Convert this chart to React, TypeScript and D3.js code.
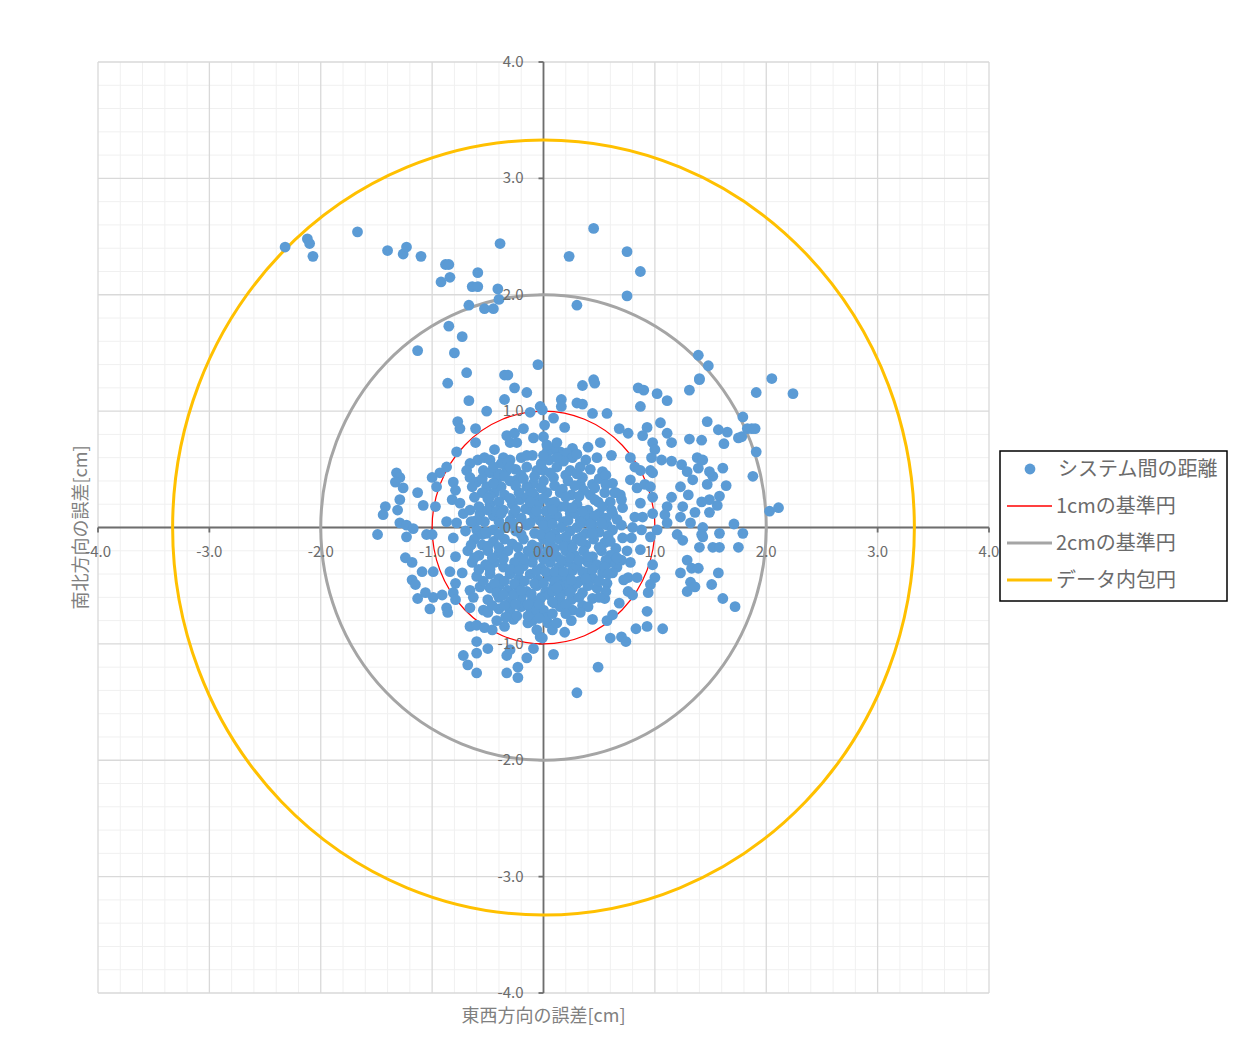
import React from "react";
import * as d3 from "d3";

// tick values for both axes
const xTicks = [-4, -3, -2, -1, 0, 1, 2, 3, 4];
const yTicks = [-4, -3, -2, -1, 0, 1, 2, 3, 4];

// reference circles: radius in cm
const circleRadii = [3.33, 2, 1];
const circleColors = ["#ffc000", "#a5a5a5", "#ff0000"];
const circleWidths = [3, 3, 1.2];

const legendLabels = ["システム間の距離", "1cmの基準円", "2cmの基準円", "データ内包円"];

// scatter points [east-west, north-south]
const farPoints: [number, number][] = [
  [-2.32, 2.41], [-2.12, 2.48], [-2.1, 2.44], [-2.07, 2.33], [-1.67, 2.54], [-1.4, 2.38],
  [-1.26, 2.35], [-1.23, 2.41], [-1.1, 2.33], [-0.88, 2.26], [-0.85, 2.26], [-0.84, 2.15],
  [-0.92, 2.11], [-0.59, 2.19], [-0.64, 2.07], [-0.59, 2.07], [-0.41, 2.05], [-0.4, 1.96],
  [-0.67, 1.91], [-0.53, 1.88], [-0.45, 1.88], [-0.39, 2.44], [-0.85, 1.73], [-0.73, 1.64],
  [-1.13, 1.52], [-0.8, 1.5], [-0.69, 1.33], [-0.86, 1.24], [-0.35, 1.31], [-0.32, 1.31],
  [-0.05, 1.4], [0.23, 2.33], [0.3, 1.91], [0.45, 2.57], [0.45, 1.27], [0.75, 2.37],
  [0.87, 2.2], [0.75, 1.99], [1.39, 1.48], [1.48, 1.39], [1.4, 1.28], [2.05, 1.28],
  [1.91, 1.16], [2.24, 1.15], [1.79, 0.95], [1.57, 0.84], [1.65, 0.82], [1.83, 0.85],
  [1.87, 0.85], [1.9, 0.85], [1.75, 0.77], [1.78, 0.78], [1.62, 0.72], [1.91, 0.65],
  [1.61, 0.51], [1.52, 0.44], [1.49, 0.48], [1.64, 0.36], [1.88, 0.44], [1.58, 0.27],
  [1.56, 0.19], [1.49, 0.24], [2.03, 0.14], [2.11, 0.17], [1.71, 0.03], [1.58, -0.05],
  [1.79, -0.05], [0.3, -1.42], [0.49, -1.2],
];

const upperPoints: [number, number][] = [
  [0.35, 1.22], [0.46, 1.24], [0.85, 1.2], [0.9, 1.18], [1.02, 1.15], [1.11, 1.09],
  [1.31, 1.18], [1.4, 1.27], [0.16, 1.1], [0.16, 1.04], [0.3, 1.07], [0.35, 1.06],
  [0.44, 0.98], [0.57, 0.98], [-0.01, 1.01], [0.09, 0.94], [0.19, 0.86], [0.01, 0.88],
  [0.87, 1.04], [0.68, 0.85], [0.76, 0.81], [0.93, 0.86], [0.89, 0.79], [1.05, 0.9],
  [1.11, 0.81], [1.15, 0.73], [0.98, 0.73], [1.0, 0.67], [0.97, 0.6], [0.96, 0.49],
  [0.98, 0.47], [1.06, 0.58], [1.15, 0.57], [1.24, 0.54], [1.31, 0.76], [1.42, 0.75],
  [1.47, 0.91], [1.38, 0.6], [1.43, 0.58], [1.29, 0.48], [1.39, 0.51], [1.34, 0.41],
  [1.47, 0.37], [1.23, 0.35], [1.3, 0.28], [1.15, 0.26], [1.42, 0.22], [1.25, 0.18],
  [1.36, 0.13], [1.49, 0.13], [1.23, 0.09], [1.32, 0.04], [1.43, 0.0], [1.11, 0.18],
  [1.09, 0.11], [1.11, 0.04], [1.02, -0.02], [1.2, -0.06], [1.42, -0.06],
  [0.51, 0.73], [0.4, 0.69], [0.26, 0.68], [0.15, 0.65], [0.21, 0.64], [0.09, 0.67],
  [0.03, 0.64], [0.12, 0.73], [0.61, 0.62], [0.48, 0.6], [0.26, 0.6], [0.33, 0.52],
  [0.53, 0.48], [0.44, 0.37], [0.78, 0.6], [0.82, 0.52], [0.78, 0.41], [0.87, 0.49],
  [0.84, 0.34], [0.91, 0.37], [0.96, 0.35], [0.69, 0.28], [0.64, 0.3], [0.61, 0.15],
  [0.49, 0.22], [0.42, 0.28], [0.33, 0.37], [0.35, 0.43], [0.71, 0.17], [0.87, 0.21],
  [0.98, 0.26], [0.82, 0.09], [0.89, 0.09], [0.98, 0.12], [0.8, 0.0], [0.88, -0.02],
  [0.7, 0.02], [0.57, 0.02], [0.44, 0.02], [0.33, 0.06], [0.24, 0.12], [0.15, 0.18],
  [0.06, 0.21], [0.03, 0.3], [0.15, 0.3], [0.09, 0.43], [0.0, 0.49], [0.24, 0.49],
  [0.0, 0.78], [0.03, 0.71],
  [-0.26, 1.2], [-0.15, 1.16], [-0.35, 1.1], [-0.67, 1.09], [-0.51, 1.0], [-0.03, 1.04],
  [-0.12, 0.99], [-0.77, 0.91], [-0.75, 0.85], [-0.61, 0.85], [-0.61, 0.73], [-0.78, 0.65],
  [-0.44, 0.67], [-0.33, 0.79], [-0.26, 0.81], [-0.3, 0.73], [-0.24, 0.73], [-0.18, 0.85],
  [-0.09, 0.77], [-0.36, 0.6], [-0.3, 0.58], [-0.59, 0.58], [-0.53, 0.6], [-0.48, 0.58],
  [-0.66, 0.55], [-0.69, 0.49], [-0.87, 0.52], [-0.93, 0.47], [-1.0, 0.43], [-1.32, 0.47],
  [-1.29, 0.43], [-1.33, 0.39], [-1.26, 0.34], [-1.13, 0.3], [-0.96, 0.35], [-0.81, 0.39],
  [-0.79, 0.32], [-0.66, 0.43], [-0.6, 0.39], [-0.64, 0.35], [-0.54, 0.49], [-0.48, 0.47],
  [-0.51, 0.35], [-0.42, 0.41], [-0.44, 0.3], [-0.33, 0.49], [-0.24, 0.41], [-0.15, 0.52],
  [-0.06, 0.49], [-0.09, 0.38], [-1.42, 0.18], [-1.29, 0.24], [-1.44, 0.11], [-1.31, 0.15],
  [-1.08, 0.19], [-0.97, 0.18], [-0.82, 0.24], [-0.75, 0.21], [-0.72, 0.12], [-0.66, 0.15],
  [-0.57, 0.12], [-0.53, 0.05], [-0.63, 0.05], [-0.78, 0.04], [-0.87, 0.05], [-1.29, 0.04],
  [-1.23, 0.02], [-1.17, -0.01], [-1.49, -0.06], [-1.05, -0.06], [-0.6, -0.02], [-0.51, -0.05],
  [-0.36, 0.15], [-0.27, 0.12], [-0.21, 0.24], [-0.12, 0.15], [-0.03, 0.06],
];

const lowerPoints: [number, number][] = [
  [-1.23, -0.08], [-1.0, -0.06], [-0.81, -0.09], [-1.24, -0.26], [-1.18, -0.3], [-1.09, -0.38],
  [-0.99, -0.38], [-0.79, -0.25], [-0.84, -0.38], [-0.73, -0.39], [-1.18, -0.45], [-1.15, -0.49],
  [-1.13, -0.61], [-1.06, -0.56], [-0.99, -0.6], [-0.91, -0.58], [-1.02, -0.7], [-0.87, -0.69],
  [-0.86, -0.73], [-0.79, -0.48], [-0.81, -0.56], [-0.79, -0.62], [-0.66, -0.69], [-0.66, -0.54],
  [-0.63, -0.6], [-0.57, -0.51], [-0.54, -0.71], [-0.5, -0.73], [-0.66, -0.85], [-0.6, -0.84],
  [-0.53, -0.86], [-0.46, -0.88], [-0.35, -0.85], [-0.27, -0.79], [-0.6, -0.98], [-0.5, -1.04],
  [-0.72, -1.1], [-0.6, -1.08], [-0.68, -1.18], [-0.6, -1.25], [-0.33, -1.1], [-0.3, -1.05],
  [-0.33, -1.25], [-0.23, -1.29], [-0.23, -1.2], [-0.15, -1.12], [-0.14, -0.82], [-0.06, -0.88],
  [-0.03, -0.94], [-0.09, -1.04], [-0.12, -0.69], [0.0, -0.71],
  [0.71, -0.09], [0.79, -0.09], [0.96, -0.08], [1.25, -0.11], [1.4, -0.17], [1.43, -0.08],
  [1.52, -0.17], [1.58, -0.17], [1.75, -0.17], [0.87, -0.19], [1.29, -0.28], [1.33, -0.35],
  [1.39, -0.35], [1.23, -0.39], [1.57, -0.39], [1.29, -0.55], [1.32, -0.47], [1.36, -0.51],
  [1.51, -0.49], [1.61, -0.61], [1.72, -0.68], [0.98, -0.32], [1.0, -0.43], [0.96, -0.49],
  [0.94, -0.56], [0.93, -0.72], [0.93, -0.85], [1.07, -0.87], [0.83, -0.87], [0.6, -0.95],
  [0.7, -0.94], [0.74, -0.98], [0.57, -0.8], [0.62, -0.75], [0.68, -0.65], [0.76, -0.55],
  [0.8, -0.58], [0.76, -0.43], [0.84, -0.43], [0.78, -0.3], [0.66, -0.34], [0.6, -0.3],
  [0.09, -1.09], [-0.01, -0.95], [0.53, -0.39], [0.48, -0.52], [0.57, -0.48], [0.44, -0.61],
  [0.55, -0.61], [0.35, -0.67], [0.4, -0.68], [0.26, -0.71], [0.33, -0.73], [0.44, -0.79],
  [0.1, -0.65], [0.04, -0.82], [0.08, -0.88], [0.19, -0.9], [0.18, -0.55], [0.09, -0.51],
  [0.26, -0.52], [0.35, -0.56], [0.26, -0.37], [0.39, -0.39], [0.15, -0.43], [0.62, -0.39],
];

const corePoints: [number, number][] = [
  [-0.2, 0.6], [-0.1, 0.62], [0.05, 0.58], [0.3, 0.63], [-0.38, 0.55],
  [-0.25, 0.5], [-0.02, 0.55], [0.12, 0.52], [0.2, 0.45], [0.42, 0.5], [-0.4, 0.46],
  [-0.3, 0.4], [-0.15, 0.35], [0.0, 0.4], [0.1, 0.36], [0.22, 0.4], [0.5, 0.42], [0.62, 0.38], [-0.55, 0.3],
  [-0.35, 0.28], [-0.22, 0.3], [-0.08, 0.27], [0.25, 0.28], [0.36, 0.32], [0.55, 0.3], [-0.62, 0.26],
  [-0.48, 0.2], [-0.4, 0.22], [-0.28, 0.2], [-0.05, 0.2], [0.02, 0.14], [0.1, 0.22], [0.2, 0.18],
  [0.3, 0.2], [0.4, 0.15], [0.5, 0.12], [0.7, 0.24], [-0.58, 0.18],
  [-0.45, 0.1], [-0.4, 0.05], [-0.2, 0.08], [-0.08, 0.1], [0.05, 0.07], [0.12, 0.1], [0.18, 0.05],
  [0.28, 0.12], [0.38, 0.08], [0.46, 0.1], [0.56, 0.08], [0.62, 0.12],
  [-0.7, -0.03], [-0.45, -0.02], [-0.35, 0.0], [-0.25, -0.03], [-0.15, 0.02], [-0.08, -0.05],
  [0.02, -0.02], [0.1, -0.05], [0.16, 0.0], [0.24, -0.03], [0.3, 0.0], [0.38, -0.05], [0.5, -0.04], [0.62, -0.02],
  [-0.62, -0.1], [-0.55, -0.15], [-0.45, -0.12], [-0.35, -0.1], [-0.28, -0.14], [-0.18, -0.1],
  [-0.1, -0.15], [0.0, -0.1], [0.06, -0.14], [0.14, -0.1], [0.22, -0.14], [0.3, -0.1], [0.38, -0.15],
  [0.45, -0.1], [0.55, -0.13], [0.65, -0.18],
  [-0.68, -0.2], [-0.58, -0.24], [-0.5, -0.2], [-0.4, -0.22], [-0.32, -0.2], [-0.22, -0.25],
  [-0.14, -0.2], [-0.05, -0.22], [0.04, -0.2], [0.12, -0.25], [0.2, -0.2], [0.28, -0.24],
  [0.36, -0.2], [0.44, -0.25], [0.52, -0.2], [0.6, -0.24], [0.75, -0.2],
  [-0.64, -0.3], [-0.52, -0.32], [-0.44, -0.3], [-0.36, -0.34], [-0.26, -0.3], [-0.18, -0.33],
  [-0.1, -0.3], [-0.02, -0.35], [0.06, -0.3], [0.14, -0.34], [0.22, -0.3], [0.3, -0.33],
  [0.4, -0.3], [0.48, -0.32], [0.7, -0.28],
  [-0.6, -0.42], [-0.48, -0.4], [-0.4, -0.44], [-0.3, -0.4], [-0.22, -0.44], [-0.12, -0.4],
  [-0.05, -0.45], [0.05, -0.42], [0.1, -0.46], [0.2, -0.42], [0.32, -0.46], [0.45, -0.44], [0.72, -0.45],
  [-0.48, -0.52], [-0.4, -0.5], [-0.32, -0.54], [-0.24, -0.5], [-0.15, -0.55], [-0.06, -0.5],
  [0.02, -0.55], [0.2, -0.5], [0.3, -0.48], [0.4, -0.5], [0.56, -0.55],
  [-0.5, -0.62], [-0.4, -0.6], [-0.3, -0.64], [-0.2, -0.6], [-0.1, -0.62], [-0.02, -0.6],
  [0.05, -0.58], [0.15, -0.6], [0.25, -0.62],
  [-0.4, -0.7], [-0.3, -0.72], [-0.2, -0.68], [-0.08, -0.72], [0.15, -0.68],
  [-0.42, -0.8], [-0.1, -0.8], [0.02, -0.78], [0.12, -0.82], [0.25, -0.8],
];

const denseFill: [number, number][] = [
  [-0.32, 0.56], [0.18, 0.57], [0.38, 0.58],
  [-0.2, 0.45], [-0.08, 0.44], [0.06, 0.47], [0.3, 0.46], [0.56, 0.45],
  [-0.38, 0.35], [-0.25, 0.36], [-0.02, 0.34], [0.17, 0.33], [0.28, 0.36], [0.46, 0.34], [0.56, 0.37],
  [-0.48, 0.27], [-0.3, 0.25], [-0.15, 0.26], [0.0, 0.25], [0.2, 0.26], [0.32, 0.27], [0.46, 0.24], [0.6, 0.22],
  [-0.5, 0.15], [-0.42, 0.14], [-0.16, 0.16], [-0.06, 0.14], [0.08, 0.15], [0.26, 0.17], [0.35, 0.14], [0.53, 0.18], [0.66, 0.07],
  [-0.6, 0.06], [-0.3, 0.06], [-0.12, 0.04], [0.0, 0.02], [0.08, 0.03], [0.22, 0.06], [0.34, 0.04], [0.42, 0.03], [0.52, 0.04],
  [-0.55, -0.06], [-0.4, -0.06], [-0.2, -0.06], [-0.03, -0.06], [0.06, -0.08], [0.2, -0.08], [0.34, -0.08], [0.44, -0.05], [0.58, -0.07],
  [-0.65, -0.15], [-0.5, -0.16], [-0.4, -0.17], [-0.23, -0.17], [-0.05, -0.17], [0.1, -0.18], [0.18, -0.16], [0.26, -0.17], [0.34, -0.12], [0.5, -0.17], [0.6, -0.12],
  [-0.62, -0.26], [-0.46, -0.26], [-0.36, -0.27], [-0.18, -0.27], [-0.09, -0.25], [0.0, -0.27], [0.08, -0.24], [0.16, -0.28], [0.24, -0.26], [0.32, -0.28], [0.4, -0.25], [0.56, -0.28], [0.66, -0.26],
  [-0.58, -0.36], [-0.48, -0.36], [-0.3, -0.36], [-0.22, -0.37], [-0.06, -0.37], [0.02, -0.38], [0.1, -0.38], [0.18, -0.38], [0.35, -0.38], [0.44, -0.36], [0.55, -0.34],
  [-0.54, -0.46], [-0.44, -0.48], [-0.35, -0.46], [-0.26, -0.48], [-0.17, -0.46], [-0.08, -0.48], [0.0, -0.48], [0.14, -0.5], [0.25, -0.45], [0.38, -0.44], [0.5, -0.46],
  [-0.42, -0.56], [-0.36, -0.58], [-0.27, -0.58], [-0.2, -0.54], [-0.11, -0.57], [0.08, -0.55], [0.12, -0.52], [0.24, -0.56], [0.32, -0.6],
  [-0.46, -0.67], [-0.35, -0.67], [-0.25, -0.66], [-0.14, -0.66], [-0.04, -0.66], [0.08, -0.64], [0.2, -0.66],
  [-0.34, -0.77], [-0.24, -0.76], [-0.14, -0.76], [-0.04, -0.78], [0.08, -0.74], [0.2, -0.74],
  [-0.55, 0.42], [-0.45, 0.38], [-0.35, 0.44], [-0.18, 0.42], [-0.1, 0.3], [-0.5, 0.25],
  [-0.38, 0.12], [-0.25, 0.15], [-0.12, 0.22], [-0.3, 0.52], [-0.45, 0.52], [-0.15, 0.62],
  [0.0, 0.62], [0.12, 0.6], [-0.65, 0.05], [-0.52, -0.04], [-0.28, 0.04], [0.65, 0.3],
  [0.58, -0.4], [0.5, -0.6],
];

const allPoints = [...farPoints, ...upperPoints, ...lowerPoints, ...corePoints, ...denseFill];

const W = 1239;
const H = 1039;
const font = "'Noto Sans CJK JP', 'Noto Sans', sans-serif";
const textGrey = "#6b6b6b";

export default function App() {
  const x = d3.scaleLinear().domain([-4, 4]).range([98, 989]);
  const y = d3.scaleLinear().domain([-4, 4]).range([993, 62]);

  const minor = d3.range(-40, 41, 2).map((d) => d / 10).filter((d) => Math.abs(d % 1) > 0.01);
  const fmt = (d: number) => d3.format(".1f")(d).replace("\u2212", "-");

  const legendTop = 451;
  const legendLeft = 1000;
  const rowY = (i: number) => legendTop + 18 + i * 37;

  return (
    <svg
      width={W}
      height={H}
      style={{ position: "absolute", left: 0, top: 0, background: "#fff" }}
    >
      {/* minor grid */}
      <g stroke="#f0f0f0" strokeWidth={1}>
        {minor.map((d) => (
          <line key={"mx" + d} x1={x(d)} x2={x(d)} y1={y(4)} y2={y(-4)} />
        ))}
        {minor.map((d) => (
          <line key={"my" + d} y1={y(d)} y2={y(d)} x1={x(-4)} x2={x(4)} />
        ))}
      </g>
      {/* major grid */}
      <g stroke="#d9d9d9" strokeWidth={1.3}>
        {xTicks.map((d) => (
          <line key={"gx" + d} x1={x(d)} x2={x(d)} y1={y(4)} y2={y(-4)} />
        ))}
        {yTicks.map((d) => (
          <line key={"gy" + d} y1={y(d)} y2={y(d)} x1={x(-4)} x2={x(4)} />
        ))}
      </g>
      {/* axes */}
      <g stroke="#6e6e6e" strokeWidth={1.8}>
        <line x1={x(-4)} x2={x(4)} y1={y(0)} y2={y(0)} />
        <line x1={x(0)} x2={x(0)} y1={y(4)} y2={y(-4)} />
        {xTicks.map((d) => (
          <line key={"tx" + d} x1={x(d)} x2={x(d)} y1={y(0)} y2={y(0) + 5} />
        ))}
        {yTicks.map((d) => (
          <line key={"ty" + d} x1={x(0) - 5} x2={x(0)} y1={y(d)} y2={y(d)} />
        ))}
      </g>
      {/* reference circles */}
      <g fill="none">
        {circleRadii.map((r, i) => (
          <ellipse
            key={"c" + r}
            cx={x(0)}
            cy={y(0)}
            rx={x(r) - x(0)}
            ry={y(0) - y(r)}
            stroke={circleColors[i]}
            strokeWidth={circleWidths[i]}
          />
        ))}
      </g>
      {/* scatter */}
      <g fill="#5b9bd5">
        {allPoints.map((p, i) => (
          <circle key={"p" + i} cx={x(p[0])} cy={y(p[1])} r={5.4} />
        ))}
      </g>
      {/* tick labels */}
      <g fontFamily={font} fontSize={15} fill={textGrey}>
        {xTicks.map((d) => (
          <text key={"lx" + d} x={x(d)} y={y(0) + 29} textAnchor="middle">
            {fmt(d)}
          </text>
        ))}
        {yTicks.map((d) => (
          <text key={"ly" + d} x={x(0) - 20} y={y(d) + 5} textAnchor="end">
            {fmt(d)}
          </text>
        ))}
      </g>
      {/* axis titles */}
      <text
        x={x(0)}
        y={1022}
        textAnchor="middle"
        fontFamily={font}
        fontSize={18}
        fill="#808080"
      >
        東西方向の誤差[cm]
      </text>
      <text
        transform={`translate(87, ${y(0)}) rotate(-90)`}
        textAnchor="middle"
        fontFamily={font}
        fontSize={18}
        fill="#808080"
      >
        南北方向の誤差[cm]
      </text>
      {/* legend */}
      <rect
        x={legendLeft}
        y={legendTop}
        width={227}
        height={150}
        fill="#fff"
        stroke="#000"
        strokeWidth={1.5}
      />
      <circle cx={1030} cy={rowY(0)} r={5.4} fill="#5b9bd5" />
      {[1, 2, 3].map((i) => (
        <line
          key={"ll" + i}
          x1={1007}
          x2={1052}
          y1={rowY(i)}
          y2={rowY(i)}
          stroke={circleColors[3 - i]}
          strokeWidth={i === 1 ? 1.5 : 3}
        />
      ))}
      <g fontFamily={font} fontSize={20} fill={textGrey}>
        {legendLabels.map((t, i) => (
          <text key={t} x={i === 0 ? 1058 : 1056} y={rowY(i) + 7}>
            {t}
          </text>
        ))}
      </g>
    </svg>
  );
}
